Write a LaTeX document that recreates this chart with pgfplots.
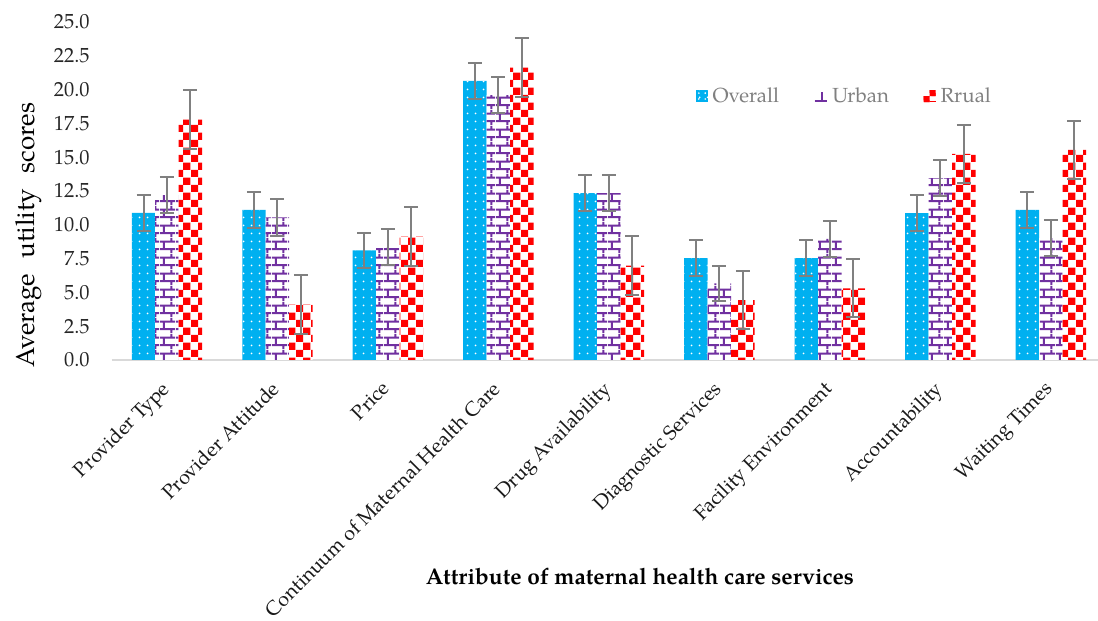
\documentclass[border=0pt]{standalone}
\usepackage{fontspec}
\setmainfont{TeX Gyre Pagella}
\usepackage{pgfplots}
\pgfplotsset{compat=1.18}
\usepackage{pgfplotstable}
\usetikzlibrary{patterns.meta,calc}

\definecolor{ovc}{HTML}{00B0F0}
\definecolor{urc}{HTML}{7030A0}
\definecolor{ruc}{HTML}{FF0000}
\definecolor{errgray}{HTML}{808080}
\definecolor{leggray}{HTML}{808080}
\definecolor{axgray}{HTML}{D9D9D9}

\tikzdeclarepattern{
  name=sparsedots,
  type=uncolored,
  bounding box={(0pt,0pt) and (6pt,6pt)},
  tile size={(6pt,6pt)},
  code={\pgfpathcircle{\pgfpoint{3pt}{3pt}}{0.8pt}\pgfusepath{fill}}
}
\tikzdeclarepattern{
  name=mybricks,
  type=uncolored,
  bounding box={(0pt,0pt) and (12pt,12pt)},
  tile size={(12pt,12pt)},
  code={
    \pgfsetlinewidth{1.6pt}
    \pgfpathmoveto{\pgfpoint{0pt}{3pt}}\pgfpathlineto{\pgfpoint{12pt}{3pt}}
    \pgfpathmoveto{\pgfpoint{0pt}{9pt}}\pgfpathlineto{\pgfpoint{12pt}{9pt}}
    \pgfpathmoveto{\pgfpoint{3pt}{3pt}}\pgfpathlineto{\pgfpoint{3pt}{9pt}}
    \pgfpathmoveto{\pgfpoint{9pt}{9pt}}\pgfpathlineto{\pgfpoint{9pt}{12pt}}
    \pgfpathmoveto{\pgfpoint{9pt}{0pt}}\pgfpathlineto{\pgfpoint{9pt}{3pt}}
    \pgfusepath{stroke}
  }
}
\tikzdeclarepattern{
  name=mychecker,
  type=uncolored,
  bounding box={(0pt,0pt) and (11pt,11pt)},
  tile size={(11pt,11pt)},
  code={
    \pgfpathrectangle{\pgfpoint{0pt}{0pt}}{\pgfpoint{5.5pt}{5.5pt}}
    \pgfpathrectangle{\pgfpoint{5.5pt}{5.5pt}}{\pgfpoint{5.5pt}{5.5pt}}
    \pgfusepath{fill}
  }
}

\pgfplotstableread{
x y e
0 10.88 1.33
1 11.10 1.33
2 8.10 1.33
3 20.65 1.33
4 12.35 1.32
5 7.53 1.33
6 7.53 1.33
7 10.87 1.33
8 11.11 1.33
}\overall
\pgfplotstableread{
x y e
0 12.20 1.32
1 10.55 1.35
2 8.34 1.34
3 19.60 1.32
4 12.35 1.32
5 5.67 1.31
6 8.95 1.35
7 13.45 1.33
8 9.02 1.33
}\urban
\pgfplotstableread{
x y e
0 17.78 2.17
1 4.10 2.20
2 9.13 2.17
3 21.63 2.17
4 6.98 2.18
5 4.43 2.17
6 5.30 2.15
7 15.25 2.15
8 15.54 2.14
}\rural

\newcommand{\tf}{\fontsize{15.3}{18}\selectfont}

\begin{document}
\begin{tikzpicture}
\begin{axis}[
  name=ax,
  scale only axis,
  width=739.7pt, height=253.5pt,
  ybar=0pt, bar width=17.6pt,
  xmin=-0.5, xmax=8.427,
  ymin=0, ymax=25,
  ytick={0,2.5,5,7.5,10,12.5,15,17.5,20,22.5,25},
  xtick={0,1,2,3,4,5,6,7,8},
  xticklabels={Provider Type, Provider Attitude, Price, Continuum of Maternal Health Care, Drug Availability, Diagnostic Services, Facility Environment, Accountability, Waiting Times},
  major tick length=0pt,
  axis x line*=bottom, axis y line*=left,
  x axis line style={draw=axgray, line width=1.5pt},
  y axis line style={draw=none},
  yticklabel style={font=\tf, text=black!85, anchor=east, xshift=-13pt,
    /pgf/number format/.cd, fixed, fixed zerofill, precision=1, assume math mode=true},
  xticklabel style={font=\fontsize{15}{18}\selectfont, text=black!90, rotate=45, anchor=north east, inner sep=1pt, xshift=-13.1pt, yshift=-5.7pt},
  ylabel={Average\hspace{0.6em}utility\hspace{0.6em}scores},
  ylabel style={at={(axis description cs:-0.084,0.37)}, anchor=center, font=\fontsize{19.5}{22}\selectfont},
  xlabel={Attribute of maternal health care services},
  xlabel style={at={(axis description cs:0.5356,-0.642)}, anchor=center, font=\bfseries\fontsize{17}{20}\selectfont},
  legend columns=3,
  legend style={at={(axis description cs:0.588,0.781)}, anchor=west, draw=none, fill=none,
    font=\tf, text=leggray,
    /tikz/every even column/.append style={column sep=24pt},
    /tikz/every odd column/.append style={column sep=1.5pt}},
  error bars/y dir=both, error bars/y explicit,
  error bars/error bar style={line width=1.5pt, draw=errgray},
  error bars/error mark options={rotate=90, line width=1.5pt, draw=errgray, mark size=5.25pt},
]
\addplot[fill=ovc, draw=none, postaction={pattern=sparsedots, pattern color=white},
  legend image code/.code={
    \fill[ovc] (0pt,-4.5pt) rectangle (9pt,4.5pt);
    \fill[white] (2.2pt,2.2pt) circle (0.7pt) (2.2pt,-2.2pt) circle (0.7pt) (7pt,2.2pt) circle (0.7pt) (7pt,-2.2pt) circle (0.7pt);}]
  table[x=x, y=y, y error=e] {\overall};
\addplot[fill=white, draw=none, postaction={pattern=mybricks, pattern color=urc},
  legend image code/.code={
    \draw[urc, line width=1.6pt] (0pt,-3.8pt) -- (9pt,-3.8pt) (5.5pt,-3.8pt) -- (5.5pt,3pt);}]
  table[x=x, y=y, y error=e] {\urban};
\addplot[fill=white, draw=none, postaction={pattern=mychecker, pattern color=ruc},
  legend image code/.code={
    \fill[ruc] (4.5pt,0pt) rectangle (9pt,4.5pt) (0pt,-4.5pt) rectangle (4.5pt,0pt);
    \draw[ruc, line width=0.6pt] (4.5pt,-4.2pt) -- (9pt,-4.2pt);}]
  table[x=x, y=y, y error=e] {\rural};
\legend{Overall, Urban, Rrual}
\end{axis}
\pgfresetboundingbox
\path ($(ax.south west)+(-83.8pt,-195.75pt)$) rectangle ($(ax.north east)+(0pt,16.5pt)$);
\end{tikzpicture}
\end{document}
